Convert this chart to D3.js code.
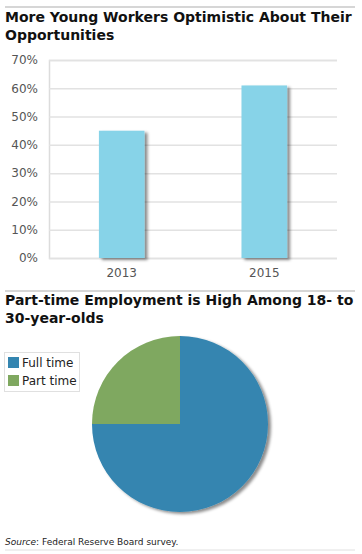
<!DOCTYPE html>
<html lang="en">
<head>
<meta charset="utf-8">
<title>Young Workers</title>
<script src="https://cdn.jsdelivr.net/npm/d3@7"></script>
<style>
    body { margin: 0; background: #fff; }
    text { font-family: "DejaVu Sans", Verdana, sans-serif; }
</style>
</head>
<body>
<script>
    // bar chart data
    var years = ["2013", "2015"];
    var optimistic = [45, 61];
    var yTicks = [0, 10, 20, 30, 40, 50, 60, 70];

    // pie chart data
    var jobTypes = ["Full time", "Part time"];
    var jobShares = [75, 25];
    var jobColours = ["#3485b0", "#7fa860"];

    var width = 362, height = 554;

    var svg = d3.select("body").append("svg")
        .attr("width", width)
        .attr("height", height);

    var defs = svg.append("defs");
    var shadow = defs.append("filter").attr("id", "shadow")
        .attr("x", "-20%").attr("y", "-20%").attr("width", "140%").attr("height", "140%");
    shadow.append("feDropShadow")
        .attr("dx", 3).attr("dy", 2)
        .attr("stdDeviation", 1.5)
        .attr("flood-color", "#000")
        .attr("flood-opacity", 0.45);

    function rule(y) {
        svg.append("line")
            .attr("x1", 5).attr("x2", 355)
            .attr("y1", y).attr("y2", y)
            .attr("stroke", "#d6d6d6")
            .attr("stroke-width", 2);
    }

    function title(lines, y0) {
        lines.forEach(function(t, i) {
            svg.append("text")
                .attr("x", 5)
                .attr("y", y0 + i * 18)
                .attr("font-weight", "bold")
                .attr("font-size", "14px")
                .attr("fill", "#111")
                .text(t);
        });
    }

    // ---- bar chart ----
    rule(7);
    title(["More Young Workers Optimistic About Their", "Opportunities"], 22);

    var plotLeft = 49, plotRight = 337;
    var y = d3.scaleLinear().domain([0, 70]).range([258, 60]);
    var x = d3.scaleBand().domain(years).range([plotLeft, plotRight])
        .paddingInner(0.68).paddingOuter(0.35);

    var yAxis = svg.append("g")
        .attr("transform", "translate(" + plotLeft + ",0)")
        .call(d3.axisLeft(y).tickValues(yTicks)
            .tickSize(-(plotRight - plotLeft))
            .tickFormat(function(d) { return d + "%"; }));
    yAxis.select(".domain").attr("stroke", "#dcdcdc").attr("stroke-width", 1.5);
    yAxis.selectAll(".tick line").attr("stroke", "#e2e2e2").attr("stroke-width", 1.5);
    yAxis.selectAll(".tick text")
        .attr("x", -11)
        .attr("font-size", "12px")
        .attr("fill", "#555")
        .style("font-family", "'DejaVu Sans', Verdana, sans-serif");

    svg.selectAll(".bar")
        .data(optimistic)
        .enter().append("rect")
        .attr("class", "bar")
        .attr("x", function(d, i) { return x(years[i]); })
        .attr("y", function(d) { return y(d); })
        .attr("width", x.bandwidth())
        .attr("height", function(d) { return y(0) - y(d); })
        .attr("fill", "#87d3e8")
        .attr("filter", "url(#shadow)");

    var xAxis = svg.append("g")
        .attr("transform", "translate(0," + y(0) + ")")
        .call(d3.axisBottom(x).tickSize(0).tickPadding(10));
    xAxis.select(".domain").remove();
    xAxis.selectAll(".tick text")
        .attr("font-size", "12px")
        .attr("fill", "#555")
        .style("font-family", "'DejaVu Sans', Verdana, sans-serif");

    // ---- pie chart ----
    rule(291);
    title(["Part-time Employment is High Among 18- to", "30-year-olds"], 305);

    var pie = d3.pie().sort(null);
    var arc = d3.arc().innerRadius(0).outerRadius(88);
    var pieG = svg.append("g")
        .attr("transform", "translate(180,424)")
        .attr("filter", "url(#shadow)");
    pieG.selectAll("path")
        .data(pie(jobShares))
        .enter().append("path")
        .attr("d", arc)
        .attr("fill", function(d, i) { return jobColours[i]; });

    // legend
    var legend = svg.append("g").attr("transform", "translate(4,352)");
    legend.append("rect")
        .attr("x", 0.5).attr("y", 0.5)
        .attr("width", 75).attr("height", 39)
        .attr("fill", "#fff")
        .attr("stroke", "#e0e0e0");
    jobTypes.forEach(function(t, i) {
        legend.append("rect")
            .attr("x", 4).attr("y", 5 + i * 18)
            .attr("width", 11).attr("height", 11)
            .attr("fill", jobColours[i]);
        legend.append("text")
            .attr("x", 18).attr("y", 15 + i * 18)
            .attr("font-size", "12px")
            .attr("fill", "#222")
            .text(t);
    });

    // source
    var src = svg.append("text")
        .attr("x", 5).attr("y", 545)
        .attr("font-size", "9px")
        .attr("fill", "#222");
    src.append("tspan").attr("font-style", "italic").text("Source");
    src.append("tspan").text(": Federal Reserve Board survey.");
    svg.append("line")
        .attr("x1", 5).attr("x2", 355)
        .attr("y1", 550).attr("y2", 550)
        .attr("stroke", "#e0e0e0")
        .attr("stroke-width", 1);
</script>
</body>
</html>
